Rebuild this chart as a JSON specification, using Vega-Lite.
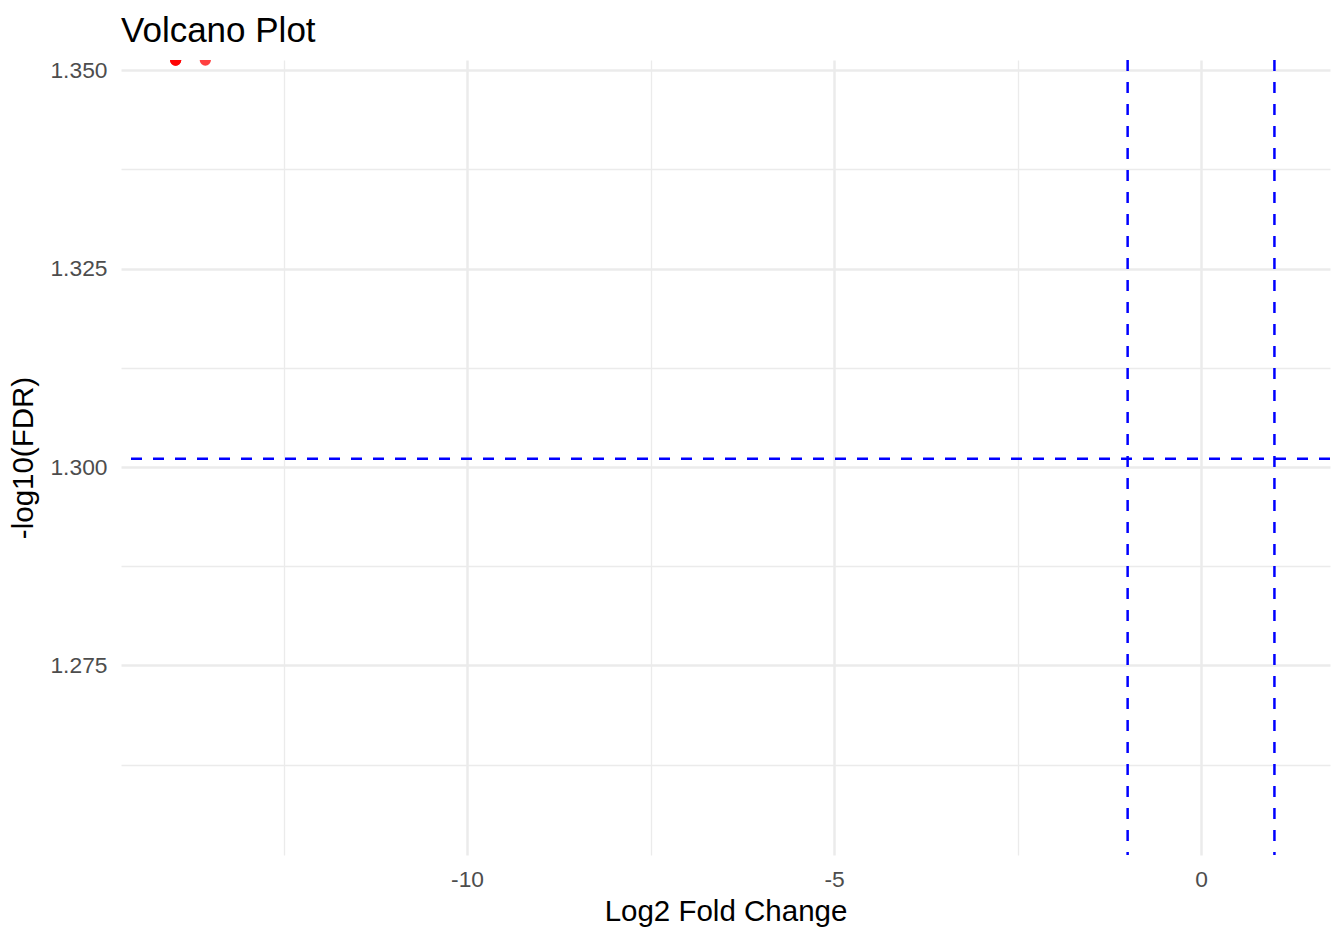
{
  "$schema": "https://vega.github.io/schema/vega-lite/v6.json",
  "width": 1209,
  "height": 795,
  "autosize": "none",
  "padding": {"left": 121, "top": 60, "right": 14, "bottom": 85},
  "background": "white",
  "config": {
    "view": {"stroke": null},
    "font": "Liberation Sans"
  },
  "title": {
    "text": "Volcano Plot",
    "anchor": "start",
    "frame": "group",
    "fontSize": 35,
    "fontWeight": "normal",
    "color": "black",
    "font": "Liberation Sans",
    "baseline": "alphabetic",
    "offset": -18
  },
  "datasets": {
    "genes": [
      {"log2FC": -13.97, "negLog10FDR": 1.3513},
      {"log2FC": -13.97, "negLog10FDR": 1.3513},
      {"log2FC": -13.97, "negLog10FDR": 1.3513},
      {"log2FC": -13.565, "negLog10FDR": 1.3513}
    ],
    "hlines": [{"y": 1.30103}],
    "vlines": [{"x": -1}, {"x": 1}]
  },
  "layer": [
    {
      "data": {"name": "genes"},
      "mark": {"type": "circle", "clip": true, "color": "#FF0000", "opacity": 0.75, "size": 127},
      "encoding": {
        "x": {
          "field": "log2FC",
          "type": "quantitative",
          "scale": {"domain": [-14.714, 1.757], "nice": false, "zero": false},
          "axis": {
            "title": "Log2 Fold Change",
            "values": [-12.5, -10, -7.5, -5, -2.5, 0],
            "labelExpr": "datum.value % 5 == 0 ? toString(datum.value) : ''",
            "domain": false,
            "ticks": false,
            "tickSize": 0,
            "labelPadding": 13,
            "labelFontSize": 22.8,
            "labelColor": "#4D4D4D",
            "labelFont": "Liberation Sans",
            "titleFont": "Liberation Sans",
            "titleFontSize": 29.5,
            "titleFontWeight": "normal",
            "titleColor": "black",
            "titlePadding": 7,
            "grid": true,
            "gridColor": "#EBEBEB",
            "gridWidth": {"condition": {"test": "datum.value % 5 == 0", "value": 2.5}, "value": 1.3}
          }
        },
        "y": {
          "field": "negLog10FDR",
          "type": "quantitative",
          "scale": {"domain": [1.2511, 1.3513], "nice": false, "zero": false},
          "axis": {
            "title": "-log10(FDR)",
            "values": [1.2625, 1.275, 1.2875, 1.3, 1.3125, 1.325, 1.3375, 1.35],
            "labelExpr": "abs(datum.value * 40 - round(datum.value * 40)) < 0.000001 ? format(datum.value, '.3f') : ''",
            "domain": false,
            "ticks": false,
            "tickSize": 0,
            "labelPadding": 14,
            "labelFontSize": 22.8,
            "labelColor": "#4D4D4D",
            "labelFont": "Liberation Sans",
            "titleFont": "Liberation Sans",
            "titleFontSize": 29.5,
            "titleFontWeight": "normal",
            "titleColor": "black",
            "titlePadding": 11,
            "grid": true,
            "gridColor": "#EBEBEB",
            "gridWidth": {"condition": {"test": "abs(datum.value * 40 - round(datum.value * 40)) < 0.000001", "value": 2.5}, "value": 1.3}
          }
        }
      }
    },
    {
      "data": {"name": "hlines"},
      "mark": {"type": "rule", "color": "#0000FF", "strokeWidth": 2.5, "strokeDash": [11, 11]},
      "encoding": {"y": {"field": "y", "type": "quantitative"}}
    },
    {
      "data": {"name": "vlines"},
      "mark": {"type": "rule", "color": "#0000FF", "strokeWidth": 2.5, "strokeDash": [11, 11]},
      "encoding": {"x": {"field": "x", "type": "quantitative"}}
    }
  ]
}
